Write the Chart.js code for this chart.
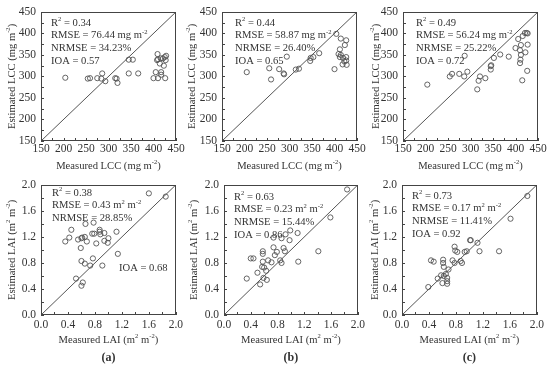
<!DOCTYPE html>
<html lang="en">
<head>
<meta charset="UTF-8">
<title>LCC / LAI validation scatter plots</title>
<script src="https://cdn.jsdelivr.net/npm/chart.js"></script>
<style>
    body { margin: 0; background: #ffffff; }
    #wrap { position: relative; width: 550px; height: 371px; overflow: hidden; }
    #wrap canvas { position: absolute; }
</style>
</head>
<body>
<div id="wrap"></div>
<script>
// tick values
var lccTicks = [150, 200, 250, 300, 350, 400, 450];
var laiTicks = [0, 0.4, 0.8, 1.2, 1.6, 2.0];

// (a) LCC
var measLccA = [204, 254, 259, 275, 286, 284, 293, 315, 318, 320, 345, 354, 345, 366, 400, 405, 410, 417, 417, 426, 409, 428, 408, 416, 421, 427, 414, 423, 410, 425];
var estLccA  = [297, 295, 296, 296, 307, 295, 289, 296, 295, 285, 339, 339, 307, 307, 296, 310, 296, 310, 304, 296, 352, 348, 338, 342, 342, 338, 330, 325, 340, 345];
// (b) LCC
var measLccB = [205, 255, 259, 277, 287, 288, 294, 314, 321, 346, 347, 353, 366, 404, 414, 426, 423, 412, 409, 412, 414, 419, 426, 426, 427, 418, 422, 400];
var estLccB  = [310, 319, 293, 317, 307, 305, 346, 316, 318, 336, 343, 345, 354, 399, 388, 384, 373, 363, 352, 345, 350, 343, 345, 337, 327, 328, 335, 317];
// (c) LCC
var measLccC = [204, 254, 259, 275, 286, 293, 287, 315, 318, 321, 333, 345, 345, 346, 352, 366, 385, 400, 406, 412, 416, 421, 425, 427, 422, 427, 410, 412, 411, 410, 426, 415];
var estLccC  = [281, 300, 306, 306, 300, 311, 348, 270, 290, 300, 296, 316, 324, 326, 343, 351, 346, 366, 387, 373, 394, 401, 401, 400, 356, 374, 361, 350, 339, 331, 313, 291];

// (a) LAI
var measLaiA = [1.60, 1.85, 0.36, 0.42, 0.45, 0.55, 0.60, 0.61, 0.59, 0.66, 0.65, 0.68, 0.76, 0.79, 0.78, 0.82, 0.87, 0.88, 0.87, 0.94, 0.94, 0.99, 1.00, 1.12, 1.14, 0.60, 0.65, 0.73, 0.77, 0.91, 0.52, 0.62, 0.60];
var estLaiA  = [1.87, 1.82, 1.13, 1.19, 1.31, 1.16, 1.18, 1.19, 1.03, 1.40, 1.20, 1.13, 1.25, 1.25, 1.42, 1.10, 1.31, 1.24, 1.28, 1.26, 1.14, 1.11, 1.18, 1.28, 0.94, 0.83, 0.79, 0.76, 0.87, 0.76, 0.56, 0.50, 0.45];
// (b) LAI
var measLaiB = [1.84, 1.59, 1.41, 1.11, 0.34, 0.40, 0.44, 0.50, 0.54, 0.58, 0.58, 0.58, 0.57, 0.60, 0.59, 0.63, 0.64, 0.66, 0.71, 0.74, 0.74, 0.76, 0.79, 0.84, 0.86, 0.86, 0.89, 0.91, 0.92, 0.98, 0.99, 1.10];
var estLaiB  = [1.93, 1.50, 0.98, 0.82, 0.56, 0.87, 0.87, 0.65, 0.47, 0.98, 0.94, 0.82, 0.74, 0.73, 0.57, 0.68, 0.54, 0.84, 0.81, 1.19, 1.04, 0.92, 0.97, 0.84, 1.18, 0.80, 1.03, 0.98, 1.24, 1.15, 1.30, 1.26];
// (c) LAI
var measLaiC = [1.86, 1.61, 1.44, 1.15, 1.12, 1.01, 1.02, 0.78, 0.79, 0.82, 0.93, 0.96, 0.87, 0.89, 0.75, 0.78, 0.61, 0.61, 0.62, 0.43, 0.47, 0.69, 0.65, 0.62, 0.58, 0.53, 0.67, 0.60, 0.67, 0.39, 0.67];
var estLaiC  = [1.83, 1.48, 0.98, 0.98, 1.11, 1.15, 1.15, 1.05, 0.99, 0.97, 0.97, 0.98, 0.83, 0.80, 0.84, 0.80, 0.85, 0.80, 0.74, 0.84, 0.82, 0.70, 0.63, 0.60, 0.61, 0.56, 0.57, 0.49, 0.48, 0.43, 0.52];

var statsLccA = ['R^{2} = 0.34', 'RMSE = 76.44 mg m^{-2}', 'NRMSE = 34.23%', 'IOA = 0.57'];
var statsLccB = ['R^{2} = 0.44', 'RMSE = 58.87 mg m^{-2}', 'NRMSE = 26.40%', 'IOA = 0.65'];
var statsLccC = ['R^{2} = 0.49', 'RMSE = 56.24 mg m^{-2}', 'NRMSE = 25.22%', 'IOA = 0.72'];
var statsLaiA = ['R^{2} = 0.38', 'RMSE = 0.43 m^{2} m^{-2}', 'NRMSE = 28.85%'];
var statsLaiB = ['R^{2} = 0.63', 'RMSE = 0.23 m^{2} m^{-2}', 'NRMSE = 15.44%', 'IOA = 0.86'];
var statsLaiC = ['R^{2} = 0.73', 'RMSE = 0.17 m^{2} m^{-2}', 'NRMSE = 11.41%', 'IOA = 0.92'];

var FONT = "'Liberation Serif', 'Times New Roman', serif";
var INK = '#333333';

var panels = [
    { left: 41,  top: 7,   w: 135, h: 134, xs: measLccA, ys: estLccA, kind: 'lcc', stats: statsLccA, tx: 10, ty: 11, yt: 29 },
    { left: 222, top: 7,   w: 135, h: 134, xs: measLccB, ys: estLccB, kind: 'lcc', stats: statsLccB, tx: 13, ty: 11, yt: 30 },
    { left: 403, top: 7,   w: 135, h: 134, xs: measLccC, ys: estLccC, kind: 'lcc', stats: statsLccC, tx: 13, ty: 11, yt: 27 },
    { left: 41,  top: 180, w: 135, h: 135, xs: measLaiA, ys: estLaiA, kind: 'lai', stats: statsLaiA, tx: 11, ty: 8,  yt: 29, letter: '(a)', ioa: 'IOA = 0.68' },
    { left: 224, top: 180, w: 134, h: 135, xs: measLaiB, ys: estLaiB, kind: 'lai', stats: statsLaiB, tx: 10, ty: 12, yt: 30, letter: '(b)' },
    { left: 402, top: 180, w: 135, h: 135, xs: measLaiC, ys: estLaiC, kind: 'lai', stats: statsLaiC, tx: 10, ty: 11, yt: 27, letter: '(c)' }
];

// draws text with ^{...} parts as superscripts
function drawRich(ctx, str, x, y, size, align, weight) {
    var parts = [];
    var re = /\^\{([^}]*)\}/g, last = 0, m;
    while ((m = re.exec(str)) !== null) {
        if (m.index > last) parts.push({ t: str.slice(last, m.index), sup: false });
        parts.push({ t: m[1], sup: true });
        last = re.lastIndex;
    }
    if (last < str.length) parts.push({ t: str.slice(last), sup: false });
    var w = weight || 'normal';
    var total = 0;
    parts.forEach(function(p) {
        ctx.font = w + ' ' + (p.sup ? size * 0.62 : size) + 'px ' + FONT;
        p.w = ctx.measureText(p.t).width;
        total += p.w;
    });
    var cx = align === 'center' ? x - total / 2 : (align === 'right' ? x - total : x);
    ctx.textBaseline = 'middle';
    ctx.textAlign = 'left';
    parts.forEach(function(p) {
        ctx.font = w + ' ' + (p.sup ? size * 0.62 : size) + 'px ' + FONT;
        ctx.fillText(p.t, cx, p.sup ? y - size * 0.36 : y);
        cx += p.w;
    });
}

var decor = {
    id: 'decor',
    afterDraw: function(chart, args, opts) {
        var ctx = chart.ctx;
        var a = chart.chartArea;
        var xs = chart.scales.x, ys = chart.scales.y;
        ctx.save();
        ctx.strokeStyle = '#444';
        ctx.lineWidth = 1;
        ctx.strokeRect(Math.round(a.left) + 0.5, Math.round(a.top) + 0.5, Math.round(a.right - a.left) - 1, Math.round(a.bottom - a.top) - 1);
        // inward ticks, major + minor
        var tk = opts.ticks;
        var half = (tk[1] - tk[0]) / 2;
        ctx.beginPath();
        for (var i = 0; i < tk.length * 2 - 1; i++) {
            var v = tk[0] + i * half;
            var px = Math.round(xs.getPixelForValue(v)) + 0.5;
            var py = Math.round(ys.getPixelForValue(v)) + 0.5;
            ctx.moveTo(px, a.bottom); ctx.lineTo(px, a.bottom - 3);
            ctx.moveTo(a.left, py); ctx.lineTo(a.left + 3, py);
        }
        ctx.stroke();

        ctx.fillStyle = INK;
        var p = opts.panel;
        p.stats.forEach(function(s, k) {
            drawRich(ctx, s, a.left + p.tx, a.top + p.ty + k * 12.7, 10.6);
        });
        if (p.ioa) drawRich(ctx, p.ioa, a.left + 78, a.top + 83, 10.6);

        // axis titles
        var cxm = (a.left + a.right) / 2;
        drawRich(ctx, opts.xTitle, cxm, a.bottom + 25.5, 10.6, 'center');
        ctx.save();
        ctx.translate(a.left - p.yt, (a.top + a.bottom) / 2);
        ctx.rotate(-Math.PI / 2);
        drawRich(ctx, opts.yTitle, 0, 0, 10.6, 'center');
        ctx.restore();
        if (p.letter) drawRich(ctx, p.letter, cxm, a.bottom + 43, 12, 'center', 'bold');
        ctx.restore();
    }
};

var wrap = document.getElementById('wrap');

panels.forEach(function(p) {
    var lcc = p.kind === 'lcc';
    var tk = lcc ? lccTicks : laiTicks;
    var lo = tk[0], hi = tk[tk.length - 1];
    var below = p.letter ? 62 : 35;
    var cv = document.createElement('canvas');
    cv.width = 41 + p.w + 10;
    cv.height = 7 + p.h + below;
    cv.style.left = (p.left - 41) + 'px';
    cv.style.top = (p.top - 7) + 'px';
    wrap.appendChild(cv);

    var pts = p.xs.map(function(x, i) { return { x: x, y: p.ys[i] }; });
    var xTitle = lcc ? 'Measured LCC (mg m^{-2})' : 'Measured LAI (m^{2} m^{-2})';
    var yTitle = lcc ? 'Estimated LCC (mg m^{-2})' : 'Estimated LAI (m^{2} m^{-2})';

    function axis(isX) {
        return {
            type: 'linear',
            min: lo,
            max: hi,
            grid: { display: false, drawTicks: false },
            border: { display: false },
            afterBuildTicks: function(s) { s.ticks = tk.map(function(v) { return { value: v }; }); },
            afterFit: function(s) {
                if (isX) s.height = below; else s.width = 41;
            },
            ticks: {
                color: INK,
                padding: isX ? (lcc ? 1 : 3) : 5,
                font: { family: FONT, size: 11.5 },
                maxRotation: 0,
                autoSkip: false,
                callback: function(v) { return lcc ? String(v) : Number(v).toFixed(1); }
            }
        };
    }

    new Chart(cv, {
        type: 'scatter',
        data: {
            datasets: [
                {
                    data: pts,
                    pointStyle: 'circle',
                    pointRadius: 2.6,
                    pointHoverRadius: 2.6,
                    borderWidth: 0.9,
                    borderColor: '#555555',
                    backgroundColor: 'rgba(0,0,0,0)'
                },
                {
                    data: [{ x: lo, y: lo }, { x: hi, y: hi }],
                    showLine: true,
                    pointRadius: 0,
                    borderColor: '#555555',
                    borderWidth: 1
                }
            ]
        },
        options: {
            responsive: false,
            animation: false,
            layout: { padding: { left: 0, top: 7, right: 10, bottom: 0 } },
            plugins: {
                legend: { display: false },
                tooltip: { enabled: false },
                decor: { panel: p, ticks: tk, xTitle: xTitle, yTitle: yTitle }
            },
            scales: { x: axis(true), y: axis(false) }
        },
        plugins: [decor]
    });
});
</script>
</body>
</html>
